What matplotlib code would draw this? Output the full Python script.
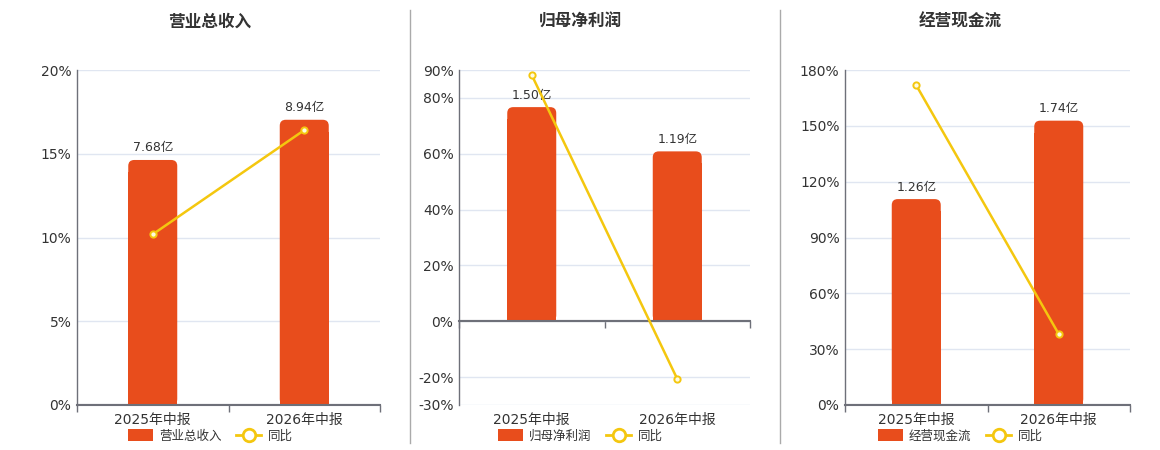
import matplotlib
matplotlib.use('Agg')
import matplotlib.pyplot as plt
import matplotlib.transforms as mtransforms
from matplotlib.patches import FancyBboxPatch, Patch
from matplotlib.lines import Line2D

plt.rcParams['font.family'] = ['DejaVu Sans', 'Noto Sans CJK SC']

# ---------------- data ----------------
categories = ['2025年中报', '2026年中报']
titles = ['营业总收入', '归母净利润', '经营现金流']
amounts_rev = [7.68, 8.94]
amounts_np = [1.50, 1.19]
amounts_cf = [1.26, 1.74]
labels_rev = ['7.68亿', '8.94亿']
labels_np = ['1.50亿', '1.19亿']
labels_cf = ['1.26亿', '1.74亿']
yoy_rev = [10.19, 16.41]
yoy_np = [88.2, -20.67]
yoy_cf = [171.8, 38.1]
ticks_rev = [0, 5, 10, 15, 20]
ticks_np = [-30, -20, 0, 20, 40, 60, 80, 90]
ticks_cf = [0, 30, 60, 90, 120, 150, 180]
legend_line = '同比'

# ---------------- style ----------------
W, H = 1160, 450
BAR_C = '#e84d1c'
LINE_C = '#f4c70f'
AXIS_C = '#6e7079'
GRID_C = '#e0e6f1'
TEXT_C = '#333333'

panels = [
    dict(title=titles[0], amt=amounts_rev, lab=labels_rev, yoy=yoy_rev, ticks=ticks_rev,
         box=(77, 380, 70, 405), bar_max=10.5, cx=210),
    dict(title=titles[1], amt=amounts_np, lab=labels_np, yoy=yoy_np, ticks=ticks_np,
         box=(459, 750, 70, 405), bar_max=1.76, cx=580),
    dict(title=titles[2], amt=amounts_cf, lab=labels_cf, yoy=yoy_cf, ticks=ticks_cf,
         box=(845, 1130, 70, 405), bar_max=2.05, cx=960),
]

fig = plt.figure(figsize=(W / 100, H / 100), dpi=100)
fig.patch.set_facecolor('white')


def rect(l, r, t, b):
    return [l / W, 1 - b / H, (r - l) / W, (b - t) / H]


x = list(range(len(categories)))

for p in panels:
    l, r, t, b = p['box']
    pmin, pmax = p['ticks'][0], p['ticks'][-1]
    ax = fig.add_axes(rect(l, r, t, b))
    ax.set_zorder(0)
    ax.set_xlim(-0.5, len(categories) - 0.5)
    ax.set_ylim(pmin, pmax)
    ax.set_yticks(p['ticks'])
    ax.set_yticklabels([f'{v}%' for v in p['ticks']])
    ax.tick_params(axis='y', length=0, pad=4, labelsize=10, labelcolor=TEXT_C)
    ax.yaxis.grid(True, color=GRID_C, lw=1)
    ax.set_axisbelow(True)
    for s in ['top', 'right']:
        ax.spines[s].set_visible(False)
    ax.spines['left'].set_color(AXIS_C)
    ax.spines['left'].set_linewidth(1)
    ax.spines['bottom'].set_position(('data', 0))
    ax.spines['bottom'].set_color(AXIS_C)
    ax.spines['bottom'].set_linewidth(1.5)
    ax.set_xticks([i - 0.5 for i in range(len(categories) + 1)])
    ax.set_xticklabels([''] * (len(categories) + 1))
    ax.tick_params(axis='x', length=5, color=AXIS_C, width=1)
    trans = mtransforms.blended_transform_factory(ax.transData, ax.transAxes)
    for i, c in enumerate(categories):
        ax.text(i, -15 / (b - t), c, transform=trans, ha='center', va='center',
                fontsize=10, color=TEXT_C)

    # bar axes
    axb = ax.twinx()
    axb.set_zorder(1)
    axb.patch.set_visible(False)
    bmax = p['bar_max']
    bmin = bmax * pmin / pmax
    axb.set_ylim(bmin, bmax)
    axb.set_xlim(-0.5, len(categories) - 0.5)
    axb.axis('off')
    bw_px = 49
    ax_w_px = r - l
    xunit_per_px = len(categories) / ax_w_px
    yunit_per_px = (bmax - bmin) / (b - t)
    bw = bw_px * xunit_per_px
    bars = axb.bar(x, p['amt'], width=bw, color=BAR_C)
    rad = 6
    for bar in bars:
        bar.set_visible(False)
        bx, by = bar.get_x(), bar.get_y()
        bwid, bh = bar.get_width(), bar.get_height()
        fp = FancyBboxPatch((bx, by), bwid, bh,
                            boxstyle=f'round,pad=0,rounding_size={rad * xunit_per_px}',
                            mutation_aspect=yunit_per_px / xunit_per_px,
                            facecolor=BAR_C, edgecolor='none')
        axb.add_patch(fp)
        # square bottom part, overlapping to avoid seams
        axb.add_patch(plt.Rectangle((bx, by), bwid, bh - 2 * rad * yunit_per_px,
                                    facecolor=BAR_C, edgecolor='none'))
    for xi, v, lab in zip(x, p['amt'], p['lab']):
        axb.annotate(lab, (xi, v), xytext=(0, 4), textcoords='offset points',
                     ha='center', va='bottom', fontsize=9, color=TEXT_C)

    # line axes
    axl = ax.twinx()
    axl.set_zorder(2)
    axl.patch.set_visible(False)
    axl.set_ylim(pmin, pmax)
    axl.set_xlim(-0.5, len(categories) - 0.5)
    axl.axis('off')
    axl.axhline(0, color=AXIS_C, lw=1.5, zorder=1)
    axl.plot(x, p['yoy'], color=LINE_C, lw=1.8, marker='o', markersize=4.5,
             markerfacecolor='#fffbe0', markeredgecolor=LINE_C, markeredgewidth=1.4,
             zorder=3, clip_on=False)

    # title
    fig.text(p['cx'] / W, 1 - 22 / H, p['title'], ha='center', va='center',
             fontsize=12, fontweight='bold', color=TEXT_C)

    # legend
    handles = [Patch(facecolor=BAR_C, edgecolor='none'),
               Line2D([0], [0], color=LINE_C, lw=2, marker='o', markersize=9,
                      markerfacecolor='white', markeredgecolor=LINE_C, markeredgewidth=2)]
    fig.legend(handles, [p['title'], legend_line], loc='center',
               bbox_to_anchor=(p['cx'] / W, 1 - 436 / H), ncol=2, frameon=False,
               fontsize=9, handlelength=2.0, handleheight=1.1, handletextpad=0.5,
               columnspacing=1.2, labelcolor=TEXT_C, borderpad=0, borderaxespad=0)

# separators
for sx in [410, 780]:
    fig.add_artist(Line2D([sx / W, sx / W], [1 - 443 / H, 1 - 10 / H],
                          color='#aaaaaa', lw=1, transform=fig.transFigure))

fig.savefig('out.png', dpi=100, facecolor='white')
